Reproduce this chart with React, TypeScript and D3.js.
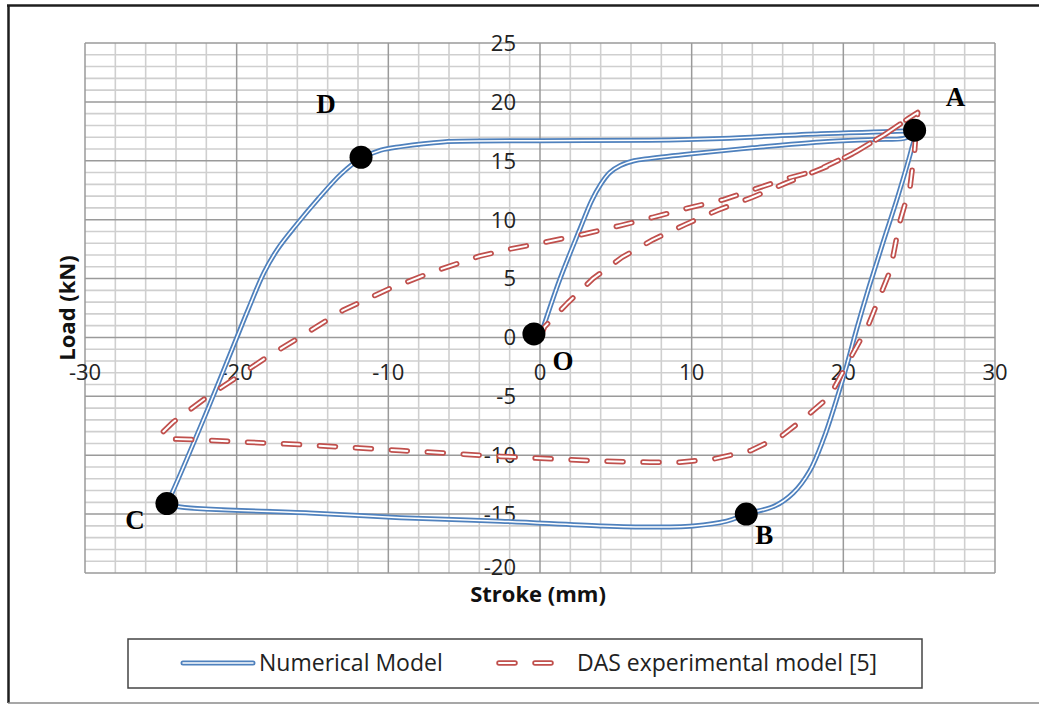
import React from "react";
import * as d3 from "d3";

// ---------- data ----------
const xTicks = [-30, -20, -10, 0, 10, 20, 30];
const yTicks = [25, 20, 15, 10, 5, 0, -5, -10, -15, -20];

const numericalX = [
  0, 1.3, 2.6, 3.4, 4.0, 4.6, 5.3, 6.2, 7.25, 10, 14, 18.5, 22, 24.0, 24.7,
  24.5, 23.6, 22.6, 21.7, 20.9, 20.2, 19.5, 18.7, 17.8, 16.7, 15.5, 13.6, 12.3, 10.1, 7.25, 4, -2.6, -9.2, -15.2, -23.7, -24.6,
  -24.4, -22.2, -20.3, -19.2, -18.2, -17.3, -16.1, -14.6, -13.1, -11.8, -10.5, -9.2, -6.4, 0, 7.25, 12, 18.5, 23.5, 24.7,
];
const numericalY = [
  0, 4.9, 9.1, 11.6, 13.0, 14.0, 14.6, 15.0, 15.2, 15.6, 16.1, 16.6, 16.8, 16.9, 17.2,
  16.0, 12.0, 8.0, 4.3, 0.8, -2.5, -5.5, -8.6, -11.3, -13.2, -14.3, -15.0, -15.6, -16.0, -16.1, -16.0, -15.6, -15.3, -14.9, -14.4, -14.1,
  -13.6, -7.0, -1.0, 2.5, 5.5, 7.5, 9.5, 11.8, 13.9, 15.2, 15.9, 16.2, 16.6, 16.7, 16.75, 16.9, 17.3, 17.5, 17.6,
];

const dasX = [
  0, 0.3, 1.8, 3.5, 5.4, 7.45, 9.6, 11.7, 14, 16.2, 18.9, 20.6, 22.7, 24.3, 24.9,
  24.7, 24.4, 23.7, 23.1, 21.6, 20.4, 19.1, 17.3, 16, 13.9, 11.5, 9.2, 7.25, 4, 0.7, -2.6, -9.2, -15.8, -22.4, -24.6, -25.0,
  -24.2, -22, -18.1, -16, -13, -10, -7, -4, -2, 0, 3, 5.3, 7.45, 9.8, 12.1, 14.4, 16.3, 18.3, 20.6, 22.7, 24.3, 24.9,
];
const dasY = [
  0, 0.9, 2.9, 5, 6.8, 8.3, 9.6, 10.8, 11.9, 13.1, 14.5, 15.6, 17.2, 18.6, 19.1,
  15.9, 12.8, 9.7, 5.7, 0.9, -1.9, -5.0, -7.0, -8.3, -9.6, -10.3, -10.6, -10.6, -10.5, -10.3, -10.1, -9.6, -9.1, -8.7, -8.6, -8.2,
  -7.2, -5.1, -1.75, -0.1, 2.3, 4.1, 5.6, 6.9, 7.5, 8.0, 8.8, 9.5, 10.2, 11.0, 11.7, 12.7, 13.5, 14.2, 15.6, 17.2, 18.6, 19.1,
];

const markerNames = ["A", "B", "C", "D", "O"];
const markerX = [24.7, 13.6, -24.6, -11.8, -0.4];
const markerY = [17.6, -15.0, -14.1, 15.3, 0.3];

const seriesNames = ["Numerical Model", "DAS experimental model [5]"];
const xTitle = "Stroke (mm)";
const yTitle = "Load (kN)";

// ---------- layout / style ----------
const W = 1039;
const H = 704;
const PLOT = { left: 85, right: 995, top: 43, bottom: 573 };
const labelOffsets: Record<string, [number, number]> = {
  A: [41, -24],
  B: [18, 30],
  C: [-32, 25],
  D: [-35, -44],
  O: [29, 36],
};
const BLUE = "#4f81bd";
const RED = "#c0504d";
const FONT = "'Open Sans', 'Noto Sans', sans-serif";

export default function App() {
  const x = d3.scaleLinear().domain([-30, 30]).range([PLOT.left, PLOT.right]);
  const y = d3.scaleLinear().domain([-20, 25]).range([PLOT.bottom, PLOT.top]);

  const numPts: [number, number][] = numericalX.map((v, i) => [v, numericalY[i]]);
  const dasPts: [number, number][] = dasX.map((v, i) => [v, dasY[i]]);

  const smooth = d3
    .line<[number, number]>()
    .x((d) => x(d[0]))
    .y((d) => y(d[1]))
    .curve(d3.curveCatmullRom.alpha(0.5));
  const straight = d3
    .line<[number, number]>()
    .x((d) => x(d[0]))
    .y((d) => y(d[1]))
    .curve(d3.curveLinear);

  const vGrid = d3.range(-30, 31, 2);
  const hGrid = d3.range(-20, 26, 1);

  const numPath = smooth(numPts) || "";
  const dasPath = straight(dasPts) || "";
  const yMin = d3.min(yTicks) as number;

  return (
    <svg
      width={W}
      height={H}
      style={{ position: "absolute", left: 0, top: 0, background: "#fff" }}
    >
      <rect x={0} y={0} width={W} height={H} fill="#fff" />
      {/* outer frame */}
      <line x1={8.5} y1={5} x2={8.5} y2={703} stroke="#1e1e1e" strokeWidth={2.5} />
      <line x1={7} y1={5.5} x2={W} y2={5.5} stroke="#1e1e1e" strokeWidth={2.5} />
      <line x1={8} y1={703} x2={W} y2={703} stroke="#8a8a8a" strokeWidth={1.5} />

      {/* minor grid */}
      {vGrid
        .filter((v) => v % 10 !== 0)
        .map((v) => (
          <line key={"v" + v} x1={x(v)} x2={x(v)} y1={PLOT.top} y2={PLOT.bottom} stroke="#cfcfcf" strokeWidth={1.6} />
        ))}
      {hGrid
        .filter((v) => v % 5 !== 0)
        .map((v) => (
          <line key={"h" + v} x1={PLOT.left} x2={PLOT.right} y1={y(v)} y2={y(v)} stroke="#cfcfcf" strokeWidth={1.6} />
        ))}
      {/* major grid */}
      {vGrid
        .filter((v) => v % 10 === 0)
        .map((v) => (
          <line key={"V" + v} x1={x(v)} x2={x(v)} y1={PLOT.top} y2={PLOT.bottom} stroke="#9a9a9a" strokeWidth={1.5} />
        ))}
      {hGrid
        .filter((v) => v % 5 === 0)
        .map((v) => (
          <line key={"H" + v} x1={PLOT.left} x2={PLOT.right} y1={y(v)} y2={y(v)} stroke="#9a9a9a" strokeWidth={1.5} />
        ))}

      {/* y tick labels */}
      {yTicks.map((v) => (
        <text
          key={"yt" + v}
          x={x(0) - 24}
          y={y(v) - (v === yMin ? 6 : 0)}
          dy="0.36em"
          textAnchor="end"
          fontFamily={FONT}
          fontSize={22}
          fill="#222"
        >
          {v}
        </text>
      ))}
      {/* x tick labels */}
      {xTicks.map((v) => (
        <text
          key={"xt" + v}
          x={x(v)}
          y={y(0) + 35}
          dy="0.36em"
          textAnchor="middle"
          fontFamily={FONT}
          fontSize={22}
          fill="#222"
        >
          {v}
        </text>
      ))}

      {/* Numerical model - double blue line */}
      <path d={numPath} fill="none" stroke={BLUE} strokeWidth={5} strokeLinejoin="round" />
      <path d={numPath} fill="none" stroke="#ffffff" strokeWidth={1.5} strokeLinejoin="round" />

      {/* DAS experimental - dashed red outlined */}
      <path d={dasPath} fill="none" stroke={RED} strokeWidth={5.5} strokeDasharray="16 20" strokeLinecap="round" strokeLinejoin="round" />
      <path d={dasPath} fill="none" stroke="#ffffff" strokeWidth={2} strokeDasharray="16 20" strokeLinecap="round" strokeLinejoin="round" />

      {/* markers */}
      {markerNames.map((n, i) => (
        <circle key={"m" + n} cx={x(markerX[i])} cy={y(markerY[i])} r={11.5} fill="#000" />
      ))}
      {markerNames.map((n, i) => (
        <text
          key={"ml" + n}
          x={x(markerX[i]) + labelOffsets[n][0]}
          y={y(markerY[i]) + labelOffsets[n][1]}
          textAnchor="middle"
          fontFamily="'Liberation Serif', 'DejaVu Serif', serif"
          fontWeight="bold"
          fontSize={27}
          fill="#000"
        >
          {n}
        </text>
      ))}

      {/* axis titles */}
      <text x={538} y={602} textAnchor="middle" fontFamily={FONT} fontWeight="bold" fontSize={22} fill="#111">
        {xTitle}
      </text>
      <text
        transform={`translate(67,308) rotate(-90)`}
        dy="0.36em"
        textAnchor="middle"
        fontFamily={FONT}
        fontWeight="bold"
        fontSize={22}
        fill="#111"
      >
        {yTitle}
      </text>

      {/* legend */}
      <rect x={128} y={639} width={794} height={49} fill="#fff" stroke="#444" strokeWidth={1.5} />
      <line x1={183} y1={663} x2={253} y2={663} stroke={BLUE} strokeWidth={5} strokeLinecap="round" />
      <line x1={183} y1={663} x2={253} y2={663} stroke="#fff" strokeWidth={1.5} strokeLinecap="round" />
      <text x={259} y={663} dy="0.36em" fontFamily={FONT} fontSize={23} fill="#222">
        {seriesNames[0]}
      </text>
      <line x1={499} y1={663} x2={554} y2={663} stroke={RED} strokeWidth={5.5} strokeDasharray="16 20" strokeLinecap="round" />
      <line x1={499} y1={663} x2={554} y2={663} stroke="#fff" strokeWidth={2} strokeDasharray="16 20" strokeLinecap="round" />
      <text x={577} y={663} dy="0.36em" fontFamily={FONT} fontSize={23} fill="#222">
        {seriesNames[1]}
      </text>
    </svg>
  );
}
